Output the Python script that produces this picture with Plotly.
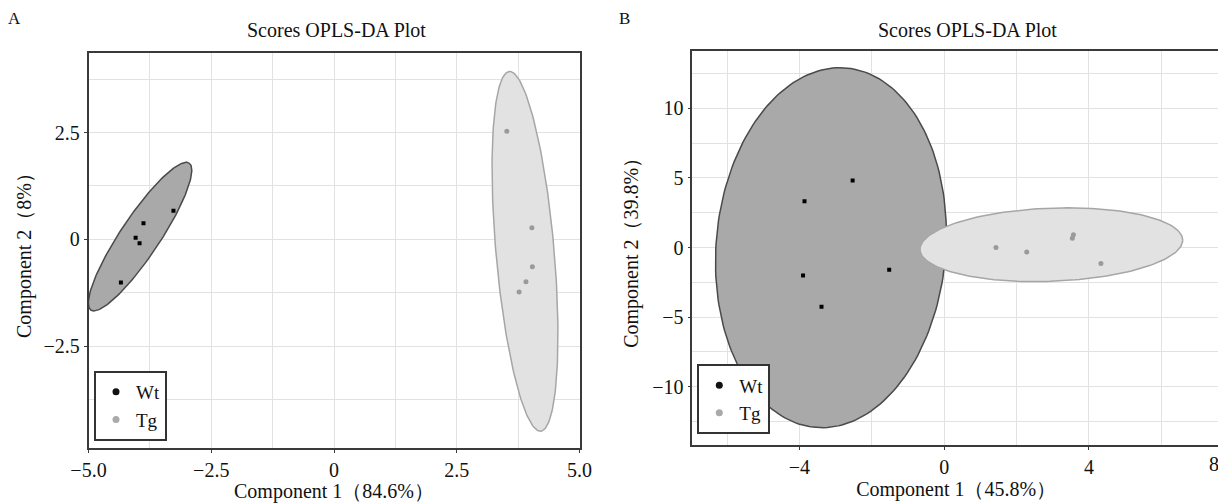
import numpy as np
import plotly.graph_objects as go

# ---------------- data ----------------
# Panel A (OPLS-DA scores)
a_wt_x = [-3.27, -3.88, -4.04, -3.96, -4.34]
a_wt_y = [0.67, 0.38, 0.04, -0.09, -1.01]
a_tg_x = [3.52, 4.03, 4.04, 3.91, 3.77]
a_tg_y = [2.53, 0.27, -0.64, -0.99, -1.23]

# Panel B
b_wt_x = [-2.53, -3.86, -3.90, -1.52, -3.39]
b_wt_y = [4.81, 3.33, -2.01, -1.60, -4.26]
b_tg_x = [1.43, 2.28, 3.57, 3.54, 4.33]
b_tg_y = [0.00, -0.33, 0.91, 0.67, -1.15]

# Confidence ellipses: centre (x, y) and two conjugate semi-axis vectors
a_wt_ell_center = [-3.95, 0.065]
a_wt_ell_u = [1.00, 1.72]
a_wt_ell_v = [-0.331, 0.254]
a_tg_ell_center = [3.89, -0.28]
a_tg_ell_u = [-0.32, 4.21]
a_tg_ell_v = [-0.59, -0.059]

b_wt_ell_center = [-3.13, -0.015]
b_wt_ell_u = [0.25, 12.94]
b_wt_ell_v = [3.18, 0.0]
b_tg_ell_center = [2.96, 0.20]
b_tg_ell_u = [3.63, 0.33]
b_tg_ell_v = [0.0, 2.63]

# axis ranges / ticks
a_xrange = [-5.0, 5.0]
a_yrange = [-4.89, 4.37]
a_xticks = [-5.0, -2.5, 0, 2.5, 5.0]
a_xticktext = ["\u22125.0", "\u22122.5", "0", "2.5", "5.0"]
a_yticks = [-2.5, 0, 2.5]
a_yticktext = ["\u22122.5", "0", "2.5"]

b_xrange = [-6.96, 7.62]
b_yrange = [-14.2, 14.15]
b_xticks = [-4, 0, 4]
b_xticktext = ["\u22124", "0", "4"]
b_yticks = [-10, -5, 0, 5, 10]
b_yticktext = ["\u221210", "\u22125", "0", "5", "10"]

title_text = "Scores OPLS-DA Plot"
a_xtitle = "Component 1\uff0884.6%\uff09"
a_ytitle = "Component 2\uff088%\uff09"
b_xtitle = "Component 1\uff0845.8%\uff09"
b_ytitle = "Component 2\uff0839.8%\uff09"

FONT = "Liberation Serif, Times New Roman, serif"
WT_FILL = "#a9a9a9"
WT_LINE = "#4a4a4a"
TG_FILL = "#e2e2e2"
TG_LINE = "#a6a6a6"
GRID = "#e2e2e2"

# page body adds an 8px margin; lay out in window pixels then shift
OFF = 8
W, H = 1226 - OFF, 503 - OFF


def px(x):
    return (x - OFF) / W


def py(y):
    return 1 - (y - OFF) / H


def ellipse(center, u, v, n=200):
    t = np.linspace(0, 2 * np.pi, n)
    x = center[0] + u[0] * np.cos(t) + v[0] * np.sin(t)
    y = center[1] + u[1] * np.cos(t) + v[1] * np.sin(t)
    return x, y


fig = go.Figure()


def add_panel(xa, ya, legend, wt_c, wt_u, wt_v, tg_c, tg_u, tg_v, wx, wy, tx, ty):
    ex, ey = ellipse(wt_c, wt_u, wt_v)
    fig.add_trace(go.Scatter(x=ex, y=ey, mode="lines", fill="toself",
                             fillcolor=WT_FILL, line=dict(color=WT_LINE, width=1.5),
                             xaxis=xa, yaxis=ya, showlegend=False, hoverinfo="skip"))
    ex, ey = ellipse(tg_c, tg_u, tg_v)
    fig.add_trace(go.Scatter(x=ex, y=ey, mode="lines", fill="toself",
                             fillcolor=TG_FILL, line=dict(color=TG_LINE, width=1.5),
                             xaxis=xa, yaxis=ya, showlegend=False, hoverinfo="skip"))
    fig.add_trace(go.Scatter(x=wx, y=wy, mode="markers",
                             marker=dict(symbol="square", size=4, color="#000000"),
                             xaxis=xa, yaxis=ya, showlegend=False, name="Wt"))
    fig.add_trace(go.Scatter(x=tx, y=ty, mode="markers",
                             marker=dict(symbol="circle", size=5, color="#9a9a9a"),
                             xaxis=xa, yaxis=ya, showlegend=False, name="Tg"))
    # legend entries
    fig.add_trace(go.Scatter(x=[None], y=[None], mode="markers", name="Wt",
                             marker=dict(symbol="circle", size=7, color="#111111"),
                             xaxis=xa, yaxis=ya, legend=legend))
    fig.add_trace(go.Scatter(x=[None], y=[None], mode="markers", name="Tg",
                             marker=dict(symbol="circle", size=7, color="#aaaaaa"),
                             xaxis=xa, yaxis=ya, legend=legend))


add_panel("x", "y", "legend", a_wt_ell_center, a_wt_ell_u, a_wt_ell_v,
          a_tg_ell_center, a_tg_ell_u, a_tg_ell_v, a_wt_x, a_wt_y, a_tg_x, a_tg_y)
add_panel("x2", "y2", "legend2", b_wt_ell_center, b_wt_ell_u, b_wt_ell_v,
          b_tg_ell_center, b_tg_ell_u, b_tg_ell_v, b_wt_x, b_wt_y, b_tg_x, b_tg_y)

TICKSIZE = 20
TITLESIZE = 20

axis_common = dict(showline=True, mirror=True, linecolor="#3a3a3a", linewidth=1.5,
                   showgrid=True, gridcolor=GRID, gridwidth=1, zeroline=False,
                   ticks="outside", ticklen=3, tickcolor="#3a3a3a",
                   tickfont=dict(family=FONT, size=TICKSIZE, color="#111"),
                   automargin=False)

fig.update_layout(
    width=W, height=H,
    margin=dict(l=0, r=0, t=0, b=0),
    paper_bgcolor="white", plot_bgcolor="white",
    font=dict(family=FONT, color="#111"),
    xaxis=dict(domain=[px(88.5), px(579.5)], range=a_xrange, anchor="y",
               tickmode="array", tickvals=a_xticks, ticktext=a_xticktext,
               minor=dict(dtick=1.25, tick0=0, showgrid=True, gridcolor=GRID, ticks=""),
               title=dict(text=a_xtitle, font=dict(family=FONT, size=TITLESIZE), standoff=1),
               **axis_common),
    yaxis=dict(domain=[py(448.3), py(52.7)], range=a_yrange, anchor="x",
               tickmode="array", tickvals=a_yticks, ticktext=a_yticktext,
               minor=dict(dtick=1.25, tick0=0, showgrid=True, gridcolor=GRID, ticks=""),
               title=dict(text=a_ytitle, font=dict(family=FONT, size=TITLESIZE), standoff=6),
               **axis_common),
    xaxis2=dict(domain=[px(692.3), px(1220)], range=b_xrange, anchor="y2",
                tickmode="array", tickvals=b_xticks, ticktext=b_xticktext,
                minor=dict(dtick=2, tick0=0, showgrid=True, gridcolor=GRID, ticks=""),
                title=dict(text=b_xtitle, font=dict(family=FONT, size=TITLESIZE), standoff=1),
                **axis_common),
    yaxis2=dict(domain=[py(445), py(50.7)], range=b_yrange, anchor="x2",
                tickmode="array", tickvals=b_yticks, ticktext=b_yticktext,
                minor=dict(dtick=2.5, tick0=0, showgrid=True, gridcolor=GRID, ticks=""),
                title=dict(text=b_ytitle, font=dict(family=FONT, size=TITLESIZE), standoff=8),
                **axis_common),
    legend=dict(x=px(94), y=py(441), xanchor="left", yanchor="bottom",
                bgcolor="white", bordercolor="#333", borderwidth=2,
                font=dict(family=FONT, size=19, color="#111"),
                itemwidth=30, tracegroupgap=0),
    legend2=dict(x=px(697.3), y=py(434.3), xanchor="left", yanchor="bottom",
                 bgcolor="white", bordercolor="#333", borderwidth=2,
                 font=dict(family=FONT, size=19, color="#111"),
                 itemwidth=30, tracegroupgap=0),
)

annotations = [
    dict(text="A", x=px(14), y=py(18), xref="paper", yref="paper",
         xanchor="center", yanchor="middle",
         showarrow=False, font=dict(family=FONT, size=17, color="#111")),
    dict(text="B", x=px(624), y=py(18), xref="paper", yref="paper",
         xanchor="center", yanchor="middle",
         showarrow=False, font=dict(family=FONT, size=17, color="#111")),
    dict(text=title_text, x=px(336), y=py(30), xref="paper", yref="paper",
         xanchor="center", yanchor="middle",
         showarrow=False, font=dict(family=FONT, size=20, color="#111")),
    dict(text=title_text, x=px(967), y=py(30), xref="paper", yref="paper",
         xanchor="center", yanchor="middle",
         showarrow=False, font=dict(family=FONT, size=20, color="#111")),
    # right-edge tick label of panel B (tick 8 sits at the clipped frame edge)
    dict(text="8", x=1, y=0, xref="x2 domain", yref="y2 domain", xanchor="right",
         yanchor="top", xshift=1, yshift=-6, showarrow=False,
         font=dict(family=FONT, size=TICKSIZE, color="#111")),
]
fig.update_layout(annotations=annotations)

fig.write_html("out.html")
